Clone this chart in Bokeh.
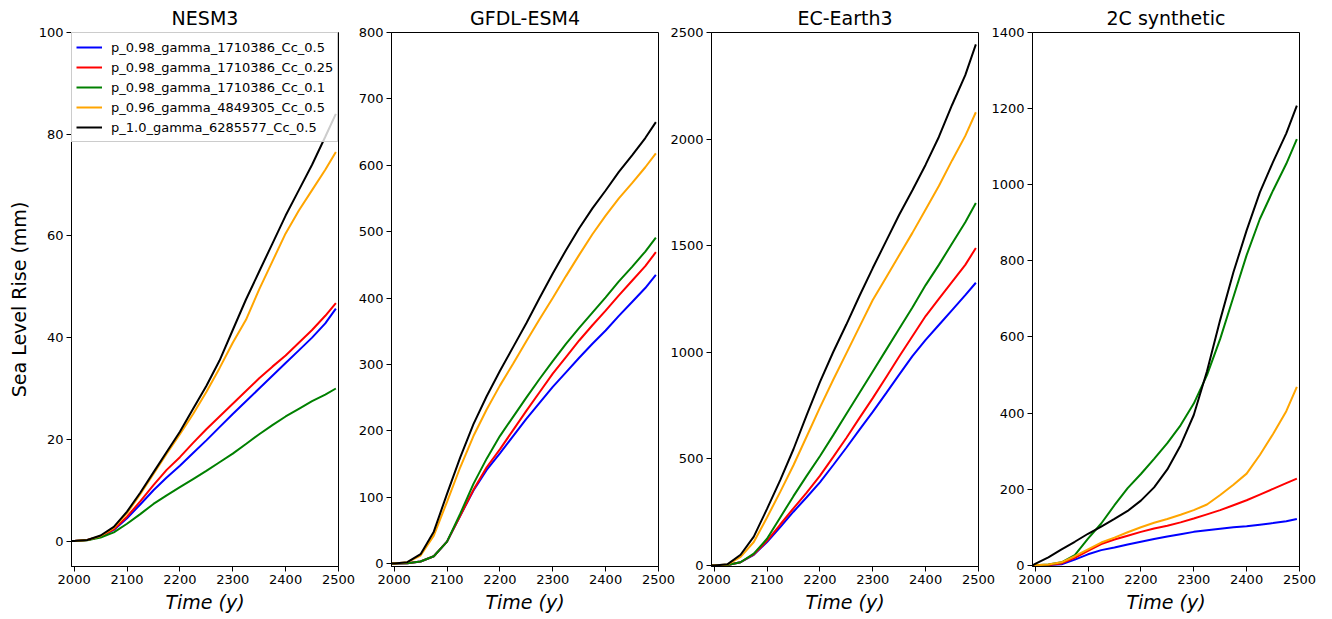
from bokeh.plotting import figure
from bokeh.layouts import row
from bokeh.models import Range1d, FixedTicker
from bokeh.embed import file_html
from bokeh.resources import INLINE

# ---------------- data ----------------
YEARS = [1995, 2000, 2025, 2050, 2075, 2100, 2125, 2150, 2175, 2200, 2225,
         2250, 2275, 2300, 2325, 2350, 2375, 2400, 2425, 2450, 2475, 2495]

SERIES_LABELS = ["p_0.98_gamma_1710386_Cc_0.5",
                 "p_0.98_gamma_1710386_Cc_0.25",
                 "p_0.98_gamma_1710386_Cc_0.1",
                 "p_0.96_gamma_4849305_Cc_0.5",
                 "p_1.0_gamma_6285577_Cc_0.5"]
SERIES_COLORS = ["blue", "red", "green", "orange", "black"]

PANEL_TITLES = ["NESM3", "GFDL-ESM4", "EC-Earth3", "2C synthetic"]
X_TICKS = [2000, 2100, 2200, 2300, 2400, 2500]

# NESM3
NESM3_BLUE = [0, 0, 0.2, 0.9, 2.2, 4.5, 7.2, 10, 12.5, 14.8, 17.3, 19.8, 22.4, 25, 27.5, 30, 32.5, 35, 37.5, 40, 42.8, 45.7]
NESM3_RED = [0, 0, 0.2, 0.9, 2.3, 4.8, 7.8, 11, 14, 16.5, 19.3, 22, 24.5, 27, 29.5, 32, 34.3, 36.5, 39, 41.5, 44.3, 46.8]
NESM3_GREEN = [0, 0, 0.15, 0.7, 1.7, 3.4, 5.3, 7.3, 9.0, 10.6, 12.2, 13.8, 15.5, 17.2, 19.1, 21, 22.8, 24.5, 26, 27.5, 28.8, 30]
NESM3_ORANGE = [0, 0, 0.2, 1.0, 2.6, 5.5, 9.2, 13.2, 17.2, 21, 25, 29.3, 34, 39, 43.5, 49.5, 55, 60.5, 65, 69, 73, 76.5]
NESM3_BLACK = [0, 0, 0.2, 1.1, 2.8, 5.8, 9.5, 13.5, 17.5, 21.5, 26, 30.5, 35.5, 41.5, 47.5, 53, 58.5, 64, 69, 74, 79.5, 84]
NESM3_YTICKS = [0, 20, 40, 60, 80, 100]

# GFDL-ESM4
GFDL_BLUE = [0, 0, 0.5, 3, 11, 33, 72, 110, 141, 166, 192, 218, 242, 266, 288, 310, 331, 351, 373, 394, 415, 435]
GFDL_RED = [0, 0, 0.5, 3, 11, 33, 72, 111, 145, 172, 201, 230, 258, 286, 311, 336, 359, 381, 404, 426, 448, 469]
GFDL_GREEN = [0, 0, 0.5, 3, 11, 33, 75, 120, 158, 192, 221, 250, 278, 305, 331, 355, 378, 401, 425, 447, 470, 491]
GFDL_ORANGE = [0, 0, 2, 12, 42, 93, 145, 192, 232, 268, 301, 335, 368, 400, 433, 465, 496, 524, 550, 573, 597, 618]
GFDL_BLACK = [0, 0, 2, 14, 48, 105, 160, 210, 252, 290, 326, 362, 400, 437, 472, 505, 535, 562, 590, 615, 641, 665]
GFDL_YTICKS = [0, 100, 200, 300, 400, 500, 600, 700, 800]

# EC-Earth3
EC_BLUE = [0, 0, 2, 15, 50, 110, 180, 252, 320, 390, 470, 552, 637, 720, 807, 895, 982, 1058, 1128, 1198, 1268, 1326]
EC_RED = [0, 0, 2, 15, 52, 115, 192, 268, 342, 420, 508, 598, 692, 785, 882, 980, 1075, 1170, 1250, 1330, 1410, 1489]
EC_GREEN = [0, 0, 2, 15, 55, 125, 225, 325, 420, 512, 610, 710, 810, 910, 1010, 1110, 1210, 1315, 1410, 1510, 1610, 1700]
EC_ORANGE = [0, 0, 4, 40, 110, 225, 345, 470, 605, 740, 870, 995, 1120, 1245, 1350, 1455, 1560, 1670, 1780, 1900, 2015, 2126]
EC_BLACK = [0, 0, 5, 50, 135, 265, 400, 545, 705, 860, 1000, 1130, 1265, 1395, 1520, 1645, 1760, 1880, 2010, 2160, 2300, 2444]
EC_YTICKS = [0, 500, 1000, 1500, 2000, 2500]

# 2C synthetic
SYN_BLUE = [0, 0, 1, 3, 15, 29, 40, 47, 55, 62, 69, 76, 82, 88, 92, 96, 100, 103, 107, 111, 116, 122]
SYN_RED = [0, 0, 1, 5, 20, 38, 56, 68, 78, 88, 97, 104, 113, 123, 134, 145, 158, 171, 186, 201, 216, 228]
SYN_GREEN = [0, 0, 2, 8, 27, 70, 110, 158, 203, 240, 280, 321, 368, 425, 500, 595, 705, 815, 910, 985, 1055, 1120]
SYN_ORANGE = [0, 0, 2, 8, 24, 42, 60, 73, 87, 100, 112, 122, 133, 145, 160, 185, 212, 241, 290, 345, 405, 469]
SYN_BLACK = [0, 4, 21, 42, 62, 83, 102, 122, 143, 170, 205, 252, 315, 395, 510, 645, 770, 880, 980, 1060, 1135, 1208]
SYN_YTICKS = [0, 200, 400, 600, 800, 1000, 1200, 1400]

PANELS = [
    dict(title=PANEL_TITLES[0], series=[NESM3_BLUE, NESM3_RED, NESM3_GREEN, NESM3_ORANGE, NESM3_BLACK],
         yticks=NESM3_YTICKS, yr=(-5, 100)),
    dict(title=PANEL_TITLES[1], series=[GFDL_BLUE, GFDL_RED, GFDL_GREEN, GFDL_ORANGE, GFDL_BLACK],
         yticks=GFDL_YTICKS, yr=(-4.5, 800)),
    dict(title=PANEL_TITLES[2], series=[EC_BLUE, EC_RED, EC_GREEN, EC_ORANGE, EC_BLACK],
         yticks=EC_YTICKS, yr=(-5, 2500)),
    dict(title=PANEL_TITLES[3], series=[SYN_BLUE, SYN_RED, SYN_GREEN, SYN_ORANGE, SYN_BLACK],
         yticks=SYN_YTICKS, yr=(-3, 1400)),
]

# ---------------- layout ----------------
FONT = "DejaVu Sans"
FW, FH = 267, 534
LEFTS = [63, 40, 44, 44]
RIGHTS = [22, 22, 22, 25]
SHIFTS = [4, -9, -13, -12]

figs = []
for i, pan in enumerate(PANELS):
    p = figure(frame_width=FW, frame_height=FH,
               x_range=Range1d(1995, 2500), y_range=Range1d(*pan["yr"]),
               output_backend="svg", toolbar_location=None,
               min_border_left=LEFTS[i], min_border_right=RIGHTS[i],
               min_border_top=24, min_border_bottom=50,
               title=pan["title"], border_fill_color=None,
               background_fill_color="white",
               margin=(1, 0, 0, SHIFTS[i]))
    p.title.text_font = FONT
    p.title.text_font_size = "19px"
    p.title.text_font_style = "normal"
    p.title.align = "center"
    p.title.text_color = "black"
    p.title.standoff = 7
    p.xgrid.visible = False
    p.ygrid.visible = False
    p.outline_line_color = "black"
    p.outline_line_alpha = 1.0

    for ax in (p.xaxis[0], p.yaxis[0]):
        ax.axis_line_color = "black"
        ax.major_tick_line_color = "black"
        ax.minor_tick_line_color = None
        ax.major_tick_in = 0
        ax.major_tick_out = 5
        ax.major_label_standoff = 3
        ax.major_label_text_font = FONT
        ax.major_label_text_font_size = "13px"
        ax.major_label_text_color = "black"
    p.xaxis.ticker = FixedTicker(ticks=X_TICKS)
    p.yaxis.ticker = FixedTicker(ticks=pan["yticks"])

    p.xaxis.axis_label = "Time (y)"
    p.xaxis.axis_label_text_font = FONT
    p.xaxis.axis_label_text_font_size = "19px"
    p.xaxis.axis_label_text_font_style = "italic"
    p.xaxis.axis_label_text_color = "black"
    p.xaxis.axis_label_standoff = 4

    if i == 0:
        p.yaxis.axis_label = "Sea Level Rise (mm)"
        p.yaxis.axis_label_text_font = FONT
        p.yaxis.axis_label_text_font_size = "19px"
        p.yaxis.axis_label_text_font_style = "normal"
        p.yaxis.axis_label_text_color = "black"
        p.yaxis.axis_label_standoff = 6

    for vals, lab, col in zip(pan["series"], SERIES_LABELS, SERIES_COLORS):
        if i == 0:
            p.line(YEARS, vals, line_color=col, line_width=2, legend_label=lab)
        else:
            p.line(YEARS, vals, line_color=col, line_width=2)

    if i == 0:
        lg = p.legend[0]
        lg.location = "top_left"
        lg.margin = 0
        lg.padding = 4
        lg.spacing = 0
        lg.label_height = 20
        lg.glyph_height = 20
        lg.glyph_width = 26
        lg.label_standoff = 9
        lg.label_text_font = FONT
        lg.label_text_font_size = "13px"
        lg.label_text_color = "black"
        lg.border_line_color = "#cccccc"
        lg.border_line_alpha = 1.0
        lg.background_fill_color = "white"
        lg.background_fill_alpha = 0.8
    figs.append(p)

layout = row(*figs, spacing=0)
open("out.html", "w").write(file_html(layout, INLINE))
